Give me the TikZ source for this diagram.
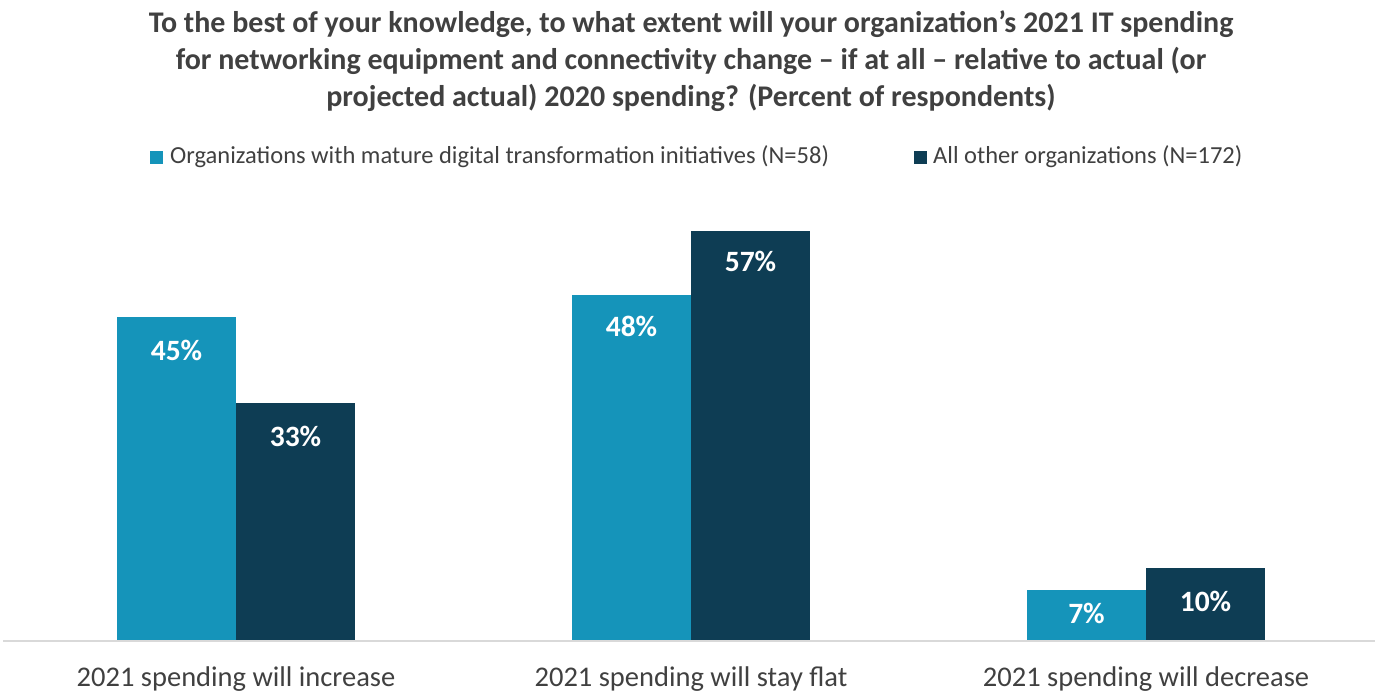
\documentclass[tikz,border=0pt]{standalone}
\usepackage{fontspec}
\setmainfont{Carlito}
\definecolor{lightbar}{HTML}{1594BA}
\definecolor{darkbar}{HTML}{0E3D54}
\definecolor{txt}{HTML}{404040}
\definecolor{axisgray}{HTML}{D9D9D9}
\begin{document}
\begin{tikzpicture}[x=1bp,y=-1bp,
  titletxt/.style={text=txt,font=\fontsize{30bp}{37bp}\selectfont\bfseries,align=center},
  legtxt/.style={text=txt,font=\fontsize{24.5bp}{28bp}\selectfont,anchor=west,inner sep=0pt},
  cattxt/.style={text=txt,font=\fontsize{28.5bp}{32bp}\selectfont,inner sep=0pt},
  vallbl/.style={text=white,font=\fontsize{29.5bp}{32bp}\selectfont\bfseries,inner sep=0pt},
  lbar/.style={fill=lightbar,draw=none},
  dbar/.style={fill=darkbar,draw=none}]
\useasboundingbox (0,0) rectangle (1375,696);
\node[titletxt] (title) at (691,61) {To the best of your knowledge, to what extent will your organization’s 2021 IT spending\\for networking equipment and connectivity change – if at all – relative to actual (or\\projected actual) 2020 spending? (Percent of respondents)};
% legend
\node[fill=lightbar,minimum size=13bp,inner sep=0pt] (lsq) at (156.5,157) {};
\node[legtxt] (ltxt) at (170,157) {Organizations with mature digital transformation initiatives (N=58)};
\node[fill=darkbar,minimum size=13bp,inner sep=0pt] (dsq) at (920,157) {};
\node[legtxt] (dtxt) at (933,157) {All other organizations (N=172)};
% bars
\fill[lbar] (117,640) rectangle (236,317);
\fill[dbar] (236,640) rectangle (355,403);
\fill[lbar] (572,640) rectangle (691,295);
\fill[dbar] (691,640) rectangle (810,231);
\fill[lbar] (1027,640) rectangle (1146,590);
\fill[dbar] (1146,640) rectangle (1265,568);
% axis
\draw[axisgray,line width=2bp] (3,641) -- (1375,641);
% value labels
\node[vallbl] (v1) at (176.5,350) {45\%};
\node[vallbl] (v2) at (295.5,436) {33\%};
\node[vallbl] (v3) at (631.5,326) {48\%};
\node[vallbl] (v4) at (750.5,261) {57\%};
\node[vallbl] (v5) at (1086.5,613) {7\%};
\node[vallbl] (v6) at (1205.5,601) {10\%};
% category labels
\node[cattxt] (c1) at (236,679) {2021 spending will increase};
\node[cattxt] (c2) at (691,679) {2021 spending will stay flat};
\node[cattxt] (c3) at (1146,679) {2021 spending will decrease};
\end{tikzpicture}
\end{document}
